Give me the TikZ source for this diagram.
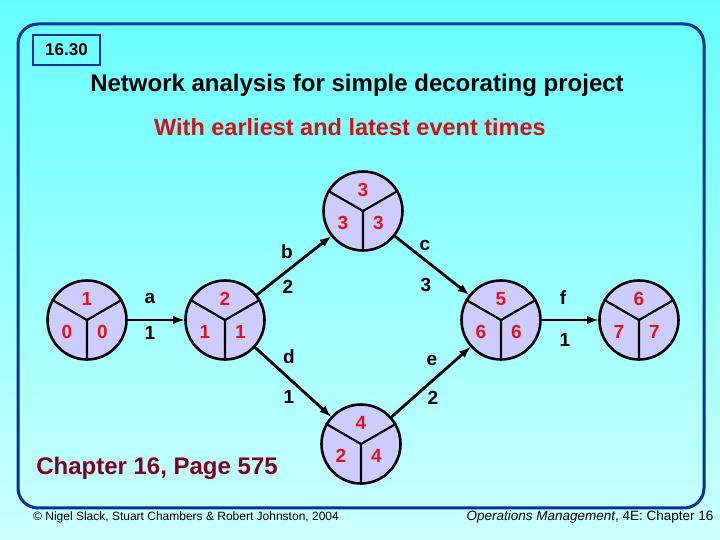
\documentclass[tikz,border=0pt]{standalone}
\usepackage{fontspec}
\setmainfont{Liberation Sans}
\usepackage{tikz}
\usetikzlibrary{
  calc,%
  arrows,
  positioning
}
\definecolor{bgtop}{RGB}{102,255,255}
\definecolor{bgbot}{RGB}{204,255,255}
\definecolor{frameblue}{RGB}{0,51,153}
\definecolor{eventfill}{RGB}{204,204,255}
\definecolor{evred}{RGB}{221,20,30}
\definecolor{subred}{RGB}{210,18,18}
\definecolor{chapred}{RGB}{128,0,32}
\tikzset{>=latex}
\tikzset{
  event/.style={circle, draw=black, line width=2.6pt, fill=eventfill,
    minimum size=79pt, inner sep=0pt},
  evnum/.style={text=evred, font=\fontsize{19}{19}\selectfont\bfseries},
  act/.style={->, line width=2.8pt},
  actlabel/.style={font=\fontsize{19}{19}\selectfont\bfseries},
}

\begin{document}
\begin{tikzpicture}[x=1pt,y=1pt]
  \useasboundingbox (0,0) rectangle (720,540);
  \shade[top color=bgtop, bottom color=bgbot] (0,0) rectangle (720,540);
  \draw[frameblue, line width=3pt, rounded corners=20pt] (18,32) rectangle (704,516);

  % headings
  \node[draw=frameblue, line width=1.2pt, minimum width=67pt, minimum height=30pt,
    font=\fontsize{17}{17}\selectfont\bfseries] (slide) at (66.5,490) {16.30};
  \node[font=\fontsize{24}{24}\selectfont\bfseries] (title) at (357,455)
    {Network analysis for simple decorating project};
  \node[text=subred, font=\fontsize{23.5}{23.5}\selectfont\bfseries] (subtitle) at (350,413)
    {With earliest and latest event times};
  \node[text=chapred, font=\fontsize{24}{24}\selectfont\bfseries] (chapter) at (157,72)
    {Chapter 16, Page 575};
  \node[font=\fontsize{12}{12}\selectfont] (copy) at (186,23)
    {© Nigel Slack, Stuart Chambers \& Robert Johnston, 2004};
  \node[font=\fontsize{13.5}{13.5}\selectfont] (book) at (590,23)
    {\textit{Operations Management}, 4E: Chapter 16};

  % events
  \node[event] (e1) at (87,220) {};
  \node[event] (e2) at (225,220) {};
  \node[event] (e3) at (363,329) {};
  \node[event] (e4) at (361,96) {};
  \node[event] (e5) at (501,220) {};
  \node[event] (e6) at (639,220) {};
  \foreach \n/\ta/\tb/\tc in {e1/1/0/0, e2/2/1/1, e3/3/3/3, e4/4/2/4, e5/5/6/6, e6/6/7/7}
  {
    \draw[line width=2.2pt] (\n.center) -- (\n.south) (\n.center) -- (\n.150)
      (\n.center) -- (\n.30);
    \node[evnum] (\n-t) at ($(\n)+(0,21)$) {\ta};
    \node[evnum] (\n-l) at ($(\n)+(-20,-12)$) {\tb};
    \node[evnum] (\n-r) at ($(\n)+(15.5,-12)$) {\tc};
  }

  % activities
  \draw[act] (e1) -- (e2);
  \draw[act] (e2) -- (e3);
  \draw[act] (e3) -- (e5);
  \draw[act] (e2) -- (e4);
  \draw[act] (e4) -- (e5);
  \draw[act] (e5) -- (e6);

  \node[actlabel] (la) at (150,242) {a};
  \node[actlabel] (da) at (150,207) {1};
  \node[actlabel] (lb) at (287,288) {b};
  \node[actlabel] (db) at (288,253) {2};
  \node[actlabel] (lc) at (425,295) {c};
  \node[actlabel] (dc) at (426,255) {3};
  \node[actlabel] (ld) at (289,183) {d};
  \node[actlabel] (dd) at (289,143) {1};
  \node[actlabel] (le) at (432,180) {e};
  \node[actlabel] (de) at (433,142) {2};
  \node[actlabel] (lf) at (563,242) {f};
  \node[actlabel] (df) at (565,200) {1};
\end{tikzpicture}
\end{document}
